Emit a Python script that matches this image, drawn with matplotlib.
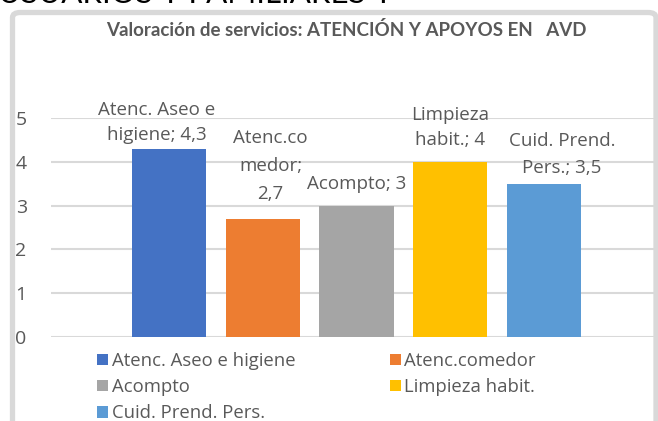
import matplotlib
matplotlib.use("Agg")
import matplotlib.pyplot as plt
from matplotlib.patches import FancyBboxPatch

categories = ["Atenc. Aseo e higiene", "Atenc.comedor", "Acompto", "Limpieza habit.", "Cuid. Prend. Pers."]
values = [4.3, 2.7, 3, 4, 3.5]
value_text = ["4,3", "2,7", "3", "4", "3,5"]
label_names = ["Atenc. Aseo e\nhigiene", "Atenc.co\nmedor;\n", "Acompto", "Limpieza\nhabit.", "Cuid. Prend.\nPers."]
colors = ["#4472C4", "#ED7D31", "#A5A5A5", "#FFC000", "#5B9BD5"]
yticks = [0, 1, 2, 3, 4, 5]

# label placement tweaks (pixels), as in the original chart
label_dx = [-12, 8, 0, 0, 18]
label_dy = [5, 16, 13, 13, 7]
label_ls = [1.5, 1.7, 1.5, 1.5, 1.6]

plt.rcParams['font.family'] = ['Open Sans', 'DejaVu Sans']
TXT = "#595959"
PX = 0.72  # points per pixel at dpi 100

W, H = 658, 421
fig = plt.figure(figsize=(W / 100, H / 100), dpi=100)

# chart frame
frame = FancyBboxPatch((12.5 / W, -0.2), (656 - 12.5) / W, 1.2 - 12.5 / H,
                       boxstyle="round,pad=0,rounding_size=0.012",
                       transform=fig.transFigure, facecolor="none",
                       edgecolor="#d9d9d9", linewidth=3.8, zorder=-5)
fig.patches.append(frame)

# cut-off heading text of the document at the very top
fig.text(-2 / W, 1 + 6 / H, "USUARIOS Y FAMILIARES Y", fontsize=22.5, color="black",
         ha="left", va="center", family=["Lato", "DejaVu Sans"])

ax = fig.add_axes([51 / W, 1 - 337 / H, (656 - 51) / W, (337 - 118) / H])
ax.set_facecolor("none")
ax.set_ylim(0, 5)
ax.set_xlim(-0.5, 0.5)

step = 0.155
width = 0.1225
for i, (v, c) in enumerate(zip(values, colors)):
    x = (i - 2) * step + 0.005
    ax.bar(x, v, width=width, color=c, zorder=3, label=categories[i])
    if i == 1:
        lab = "Atenc.co\nmedor;\n" + value_text[i]
    else:
        lab = label_names[i] + "; " + value_text[i]
    ax.annotate(lab, xy=(x, v), xytext=(label_dx[i] * PX, label_dy[i] * PX),
                textcoords="offset points",
                ha="center", va="bottom", fontsize=13.5, color=TXT,
                linespacing=label_ls[i], clip_on=False, annotation_clip=False, zorder=6)

ax.set_yticks(yticks)
ax.set_yticklabels([str(t) for t in yticks])
ax.tick_params(axis="y", length=0, labelsize=14, labelcolor=TXT, pad=17.5)
ax.set_xticks([])
ax.grid(axis="y", color="#d9d9d9", linewidth=1.5, zorder=0)
for s in ax.spines.values():
    s.set_visible(False)

fig.text(346 / W, 1 - 30 / H, "Valoración de servicios: ATENCIÓN Y APOYOS EN   AVD",
         ha="center", va="center", fontsize=13.5, fontweight="bold", color=TXT,
         family=["Lato", "DejaVu Sans"])

handles, labels = ax.get_legend_handles_labels()
order = [0, 2, 4, 1, 3]
leg = fig.legend([handles[k] for k in order], [labels[k] for k in order],
                 loc="upper left", bbox_to_anchor=(84 / W, 1 - 339 / H),
                 ncol=2, frameon=False, fontsize=13.3, labelcolor=TXT,
                 handlelength=0.6, handleheight=0.6, handletextpad=0.2,
                 columnspacing=5.1, labelspacing=0.44, borderpad=0.2)

fig.savefig("out.png", dpi=100)
